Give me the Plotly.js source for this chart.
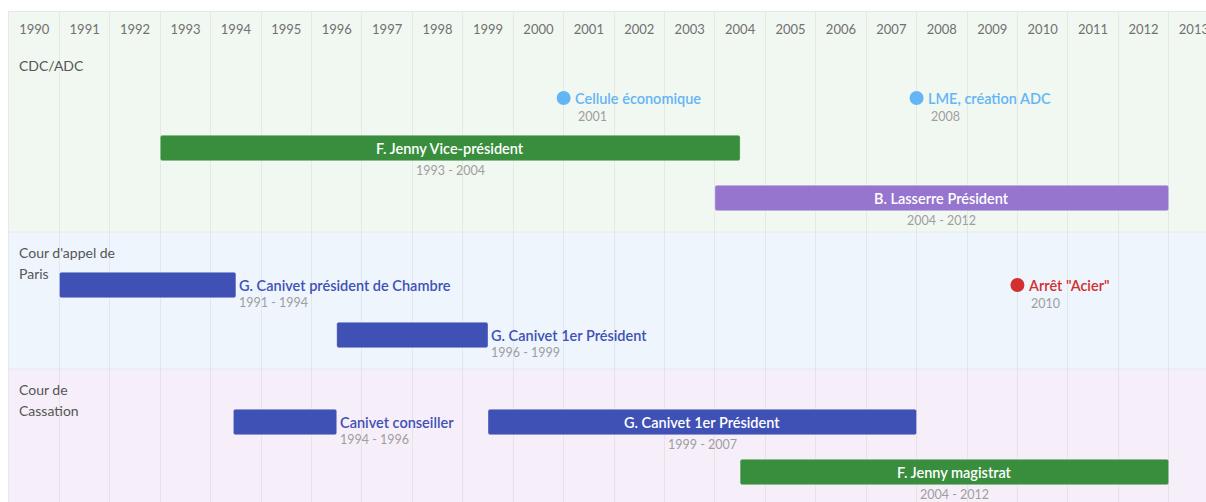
<!DOCTYPE html>
<html>
<head>
<meta charset="utf-8">
<script src="https://cdn.plot.ly/plotly-3.0.1.min.js"></script>
<style>html,body{margin:0;padding:0;background:#fff;}#chart{width:1206px;height:502px;}</style>
</head>
<body>
<div id="chart"></div>
<script>
// ---- data ----
const years = [1990,1991,1992,1993,1994,1995,1996,1997,1998,1999,2000,2001,2002,2003,2004,2005,2006,2007,2008,2009,2010,2011,2012,2013];
const groupNames = ["CDC/ADC", "Cour d'appel de Paris", "Cour de Cassation"];
const groupLabelLines = [["CDC/ADC"], ["Cour d'appel de", "Paris"], ["Cour de", "Cassation"]];

// periods (bars)
const spanLabels = ["F. Jenny Vice-président", "B. Lasserre Président", "G. Canivet président de Chambre", "G. Canivet 1er Président", "Canivet conseiller", "G. Canivet 1er Président", "F. Jenny magistrat"];
const spanGroup  = [0, 0, 1, 1, 2, 2, 2];
const spanLane   = [1, 2, 0, 1, 0, 0, 1];
const spanStart  = [1993.0, 2004.0, 1991.0, 1996.5, 1994.45, 1999.5, 2004.5];
const spanEnd    = [2004.5, 2013.0, 1994.5, 1999.5, 1996.5, 2008.0, 2013.0];
const spanDates  = ["1993 - 2004", "2004 - 2012", "1991 - 1994", "1996 - 1999", "1994 - 1996", "1999 - 2007", "2004 - 2012"];
const spanKind   = ["green", "purple", "blue", "blue", "blue", "blue", "green"];

// events (points)
const eventLabels = ["Cellule économique", "LME, création ADC", "Arrêt \"Acier\""];
const eventGroup  = [0, 0, 1];
const eventLane   = [0, 0, 0];
const eventDate   = [2001.0, 2008.0, 2010.0];
const eventDates  = ["2001", "2008", "2010"];
const eventKind   = ["lightblue", "lightblue", "red"];

// ---- styles ----
const palette = {green: "#388e3c", purple: "#9575cd", blue: "#3f51b5", lightblue: "#64b5f6", red: "#d32f2f"};
const bandColors = ["#f1f8f2", "#eef5fd", "#f6eff9"];
const FONT = "Lato, 'Open Sans', sans-serif";
const HEADER = 33, FIRST = 53, LANE = 50, PAD = 34, BAR_H = 25.6;

// lane counts per group
const laneCount = groupNames.map((g, gi) => {
  let m = 0;
  spanGroup.forEach((sg, i) => { if (sg === gi) m = Math.max(m, spanLane[i] + 1); });
  eventGroup.forEach((eg, i) => { if (eg === gi) m = Math.max(m, eventLane[i] + 1); });
  return m;
});
const bandTop = [], bandBottom = [], firstRow = [];
let cursor = 0;
groupNames.forEach((g, gi) => {
  bandTop.push(cursor);
  const head = gi === 0 ? HEADER : 0;
  firstRow.push(cursor + head + FIRST);
  cursor += head + FIRST + LANE * (laneCount[gi] - 1) + PAD;
  bandBottom.push(cursor);
});
const rowY = (g, l) => firstRow[g] + LANE * l;
const Y_MAX = 490;

const spanY = spanGroup.map((g, i) => rowY(g, spanLane[i]));
const eventY = eventGroup.map((g, i) => rowY(g, eventLane[i]));

const traces = [
  {
    type: "bar", orientation: "h",
    base: spanStart,
    x: spanEnd.map((e, i) => e - spanStart[i]),
    y: spanY,
    width: BAR_H,
    marker: {color: spanKind.map(k => palette[k]), cornerradius: 2,
             line: {color: "rgba(255,255,255,0.35)", width: 1}},
    hoverinfo: "skip", showlegend: false
  },
  {
    type: "scatter", mode: "markers",
    x: eventDate, y: eventY,
    marker: {size: 14, color: eventKind.map(k => palette[k])},
    hoverinfo: "skip", showlegend: false
  }
];

const shapes = [];
groupNames.forEach((g, gi) => {
  shapes.push({type: "rect", xref: "paper", yref: "y", x0: 0, x1: 1,
    y0: bandTop[gi], y1: Math.max(bandBottom[gi], gi === groupNames.length - 1 ? Y_MAX + 10 : 0), fillcolor: bandColors[gi], line: {width: 0}, layer: "below"});
  if (gi > 0) shapes.push({type: "line", xref: "paper", yref: "y", x0: 0, x1: 1,
    y0: bandTop[gi], y1: bandTop[gi], line: {color: "rgba(0,0,0,0.05)", width: 1}, layer: "below"});
});

const annotations = [];
groupLabelLines.forEach((lines, gi) => {
  lines.forEach((t, li) => {
    annotations.push({xref: "paper", yref: "y", x: 0, xanchor: "left", xshift: 8,
      y: bandTop[gi] + (gi === 0 ? HEADER : 0) + 20 + 21 * li, yanchor: "middle",
      text: t, showarrow: false, font: {family: FONT, size: 14, color: "#555555"}});
  });
});

spanLabels.forEach((lab, i) => {
  const inside = (spanEnd[i] - spanStart[i]) >= 5;
  const col = palette[spanKind[i]];
  if (inside) {
    const mid = (spanStart[i] + spanEnd[i]) / 2;
    annotations.push({xref: "x", yref: "y", x: mid, y: spanY[i], xanchor: "center", yanchor: "middle",
      text: lab, showarrow: false, font: {family: FONT, size: 14.5, color: "#ffffff", weight: 600}});
    annotations.push({xref: "x", yref: "y", x: mid, y: spanY[i] + 22, xanchor: "center", yanchor: "middle",
      text: spanDates[i], showarrow: false, font: {family: FONT, size: 12.5, color: "#9e9e9e"}});
  } else {
    annotations.push({xref: "x", yref: "y", x: spanEnd[i], xshift: 1, y: spanY[i], xanchor: "left", yanchor: "middle",
      text: lab, showarrow: false, font: {family: FONT, size: 14.5, color: col, weight: 600}});
    annotations.push({xref: "x", yref: "y", x: spanEnd[i], xshift: 1, y: spanY[i] + 17, xanchor: "left", yanchor: "middle",
      text: spanDates[i], showarrow: false, font: {family: FONT, size: 12.5, color: "#9e9e9e"}});
  }
});

eventLabels.forEach((lab, i) => {
  const col = palette[eventKind[i]];
  annotations.push({xref: "x", yref: "y", x: eventDate[i], xshift: 9, y: eventY[i], xanchor: "left", yanchor: "middle",
    text: lab, showarrow: false, font: {family: FONT, size: 14.5, color: col, weight: 600}});
  annotations.push({xref: "x", yref: "y", x: eventDate[i], xshift: 12, y: eventY[i] + 18, xanchor: "left", yanchor: "middle",
    text: eventDates[i], showarrow: false, font: {family: FONT, size: 12.5, color: "#9e9e9e"}});
});

const layout = {
  width: 1206, height: 502,
  margin: {l: 9, r: 0, t: 12, b: 0, pad: 0},
  paper_bgcolor: "#ffffff", plot_bgcolor: "#ffffff",
  barmode: "overlay",
  xaxis: {
    range: [1990, 2013.74], side: "top",
    tickmode: "array", tickvals: years.map(y => y + 0.5), ticktext: years.map(String),
    ticklabelposition: "inside", ticklabeloverflow: "allow", ticks: "", ticklabelstandoff: 13,
    tickfont: {family: FONT, size: 13, color: "#707070"},
    showgrid: false, zeroline: false,
    minor: {tickmode: "array", tickvals: years, showgrid: true, gridcolor: "rgba(0,0,0,0.055)", gridwidth: 1, ticks: ""},
    showline: true, linecolor: "#e8e8e8", linewidth: 1,
    fixedrange: true
  },
  yaxis: {
    range: [Y_MAX, 0], showgrid: false, zeroline: false, showticklabels: false, ticks: "",
    showline: true, linecolor: "#e8e8e8", linewidth: 1, fixedrange: true
  },
  shapes: shapes,
  annotations: annotations,
  showlegend: false
};

Plotly.newPlot("chart", traces, layout, {displayModeBar: false, staticPlot: true});
</script>
</body>
</html>
